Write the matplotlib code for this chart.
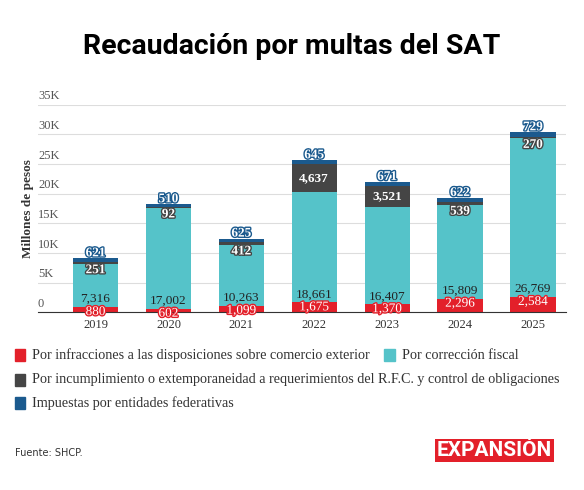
import matplotlib
matplotlib.use("Agg")
import matplotlib.pyplot as plt
import matplotlib.patheffects as pe
import matplotlib.transforms as mtrans

years = ["2019", "2020", "2021", "2022", "2023", "2024", "2025"]
infracciones = [880, 602, 1099, 1675, 1370, 2296, 2584]
correccion = [7316, 17002, 10263, 18661, 16407, 15809, 26769]
incumplimiento = [251, 92, 412, 4637, 3521, 539, 270]
entidades = [621, 510, 625, 645, 671, 622, 729]

names = ["Por infracciones a las disposiciones sobre comercio exterior",
         "Por corrección fiscal",
         "Por incumplimiento o extemporaneidad a requerimientos del R.F.C. y control de obligaciones",
         "Impuestas por entidades federativas"]
colors = ["#e3202a", "#55c3c9", "#454545", "#1b5a8e"]
serif = "Liberation Serif"

fig = plt.figure(figsize=(5.84, 4.90), dpi=100)
ax = fig.add_axes([0.065, 0.363, 0.905, 0.423])
fig.text(0.5, 0.905, "Recaudación por multas del SAT", ha="center", va="center",
         fontsize=20.5, fontweight="bold", family="Roboto")

x = range(len(years))
bottom = [0] * len(years)
series = [infracciones, correccion, incumplimiento, entidades]
for vals, c, n in zip(series, colors, names):
    ax.bar(x, vals, bottom=bottom, color=c, width=0.62, label=n)
    bottom = [b + v for b, v in zip(bottom, vals)]

b0 = infracciones
b1 = [a + b for a, b in zip(b0, correccion)]
b2 = [a + b for a, b in zip(b1, incumplimiento)]
b3 = [a + b for a, b in zip(b2, entidades)]
fs = 9.5
for i in x:
    ax.text(i, b0[i] + 150, f"{infracciones[i]:,}", ha="center", va="top", fontsize=fs,
            color="white", family=serif,
            path_effects=[pe.withStroke(linewidth=2, foreground=colors[0])])
    ax.text(i, b0[i] + 300, f"{correccion[i]:,}", ha="center", va="bottom", fontsize=fs,
            color="#222222", family=serif)
    if incumplimiento[i] > 1000:
        ax.text(i, b1[i] + incumplimiento[i] / 2, f"{incumplimiento[i]:,}", ha="center",
                va="center", fontsize=fs, color="white", family=serif, fontweight="bold")
    else:
        ax.text(i, b1[i] - 100, f"{incumplimiento[i]:,}", ha="center", va="top", fontsize=fs,
                color="white", family=serif, fontweight="bold",
                path_effects=[pe.withStroke(linewidth=2, foreground=colors[2])])
    ax.text(i, b3[i] - 150, f"{entidades[i]:,}", ha="center", va="bottom", fontsize=fs,
            color="white", family=serif, fontweight="bold",
            path_effects=[pe.withStroke(linewidth=2, foreground=colors[3])])

ax.set_ylim(0, 35000)
ax.set_xlim(-0.79, 6.46)
ax.set_xticks(list(x))
ax.set_xticklabels(years, family=serif, fontsize=9, color="#333333")
ticks = [0, 5000, 10000, 15000, 20000, 25000, 30000, 35000]
ax.set_yticks(ticks)
ax.set_yticklabels([])
ax.tick_params(axis="y", length=0)
ax.tick_params(axis="x", length=0, pad=5)
tr = mtrans.blended_transform_factory(ax.transAxes, ax.transData)
for t in ticks:
    ax.text(0.0, t + 400, "0" if t == 0 else f"{t // 1000}K", transform=tr, ha="left",
            va="bottom", fontsize=9, family=serif, color="#555555")
ax.grid(axis="y", color="#dddddd", linewidth=0.8)
ax.set_axisbelow(True)
for s in ["top", "right", "left"]:
    ax.spines[s].set_visible(False)
ax.spines["bottom"].set_color("#333333")
fig.text(0.048, 0.575, "Millones de pesos", rotation=90, ha="center", va="center",
         family=serif, fontsize=9.5, fontweight="bold", color="#333333")

leg_pos = [(0.025, 0.275), (0.658, 0.275), (0.025, 0.225), (0.025, 0.177)]
for (px, py), c, n in zip(leg_pos, colors, names):
    fig.patches.append(plt.Rectangle((px, py - 0.012), 0.018, 0.024, color=c,
                                     transform=fig.transFigure, figure=fig))
    fig.text(px + 0.03, py, n, va="center", fontsize=10.2, family=serif, color="#333333")

fig.text(0.025, 0.075, "Fuente: SHCP.", fontsize=7, color="#333333", va="center")
fig.text(0.748, 0.08, "EXPANSIÓN", fontsize=15, fontweight="bold", color="white",
         va="center", family="Roboto",
         bbox=dict(boxstyle="square,pad=0.1", facecolor="#e3202a", edgecolor="none"))

fig.savefig("out.png", dpi=100)
